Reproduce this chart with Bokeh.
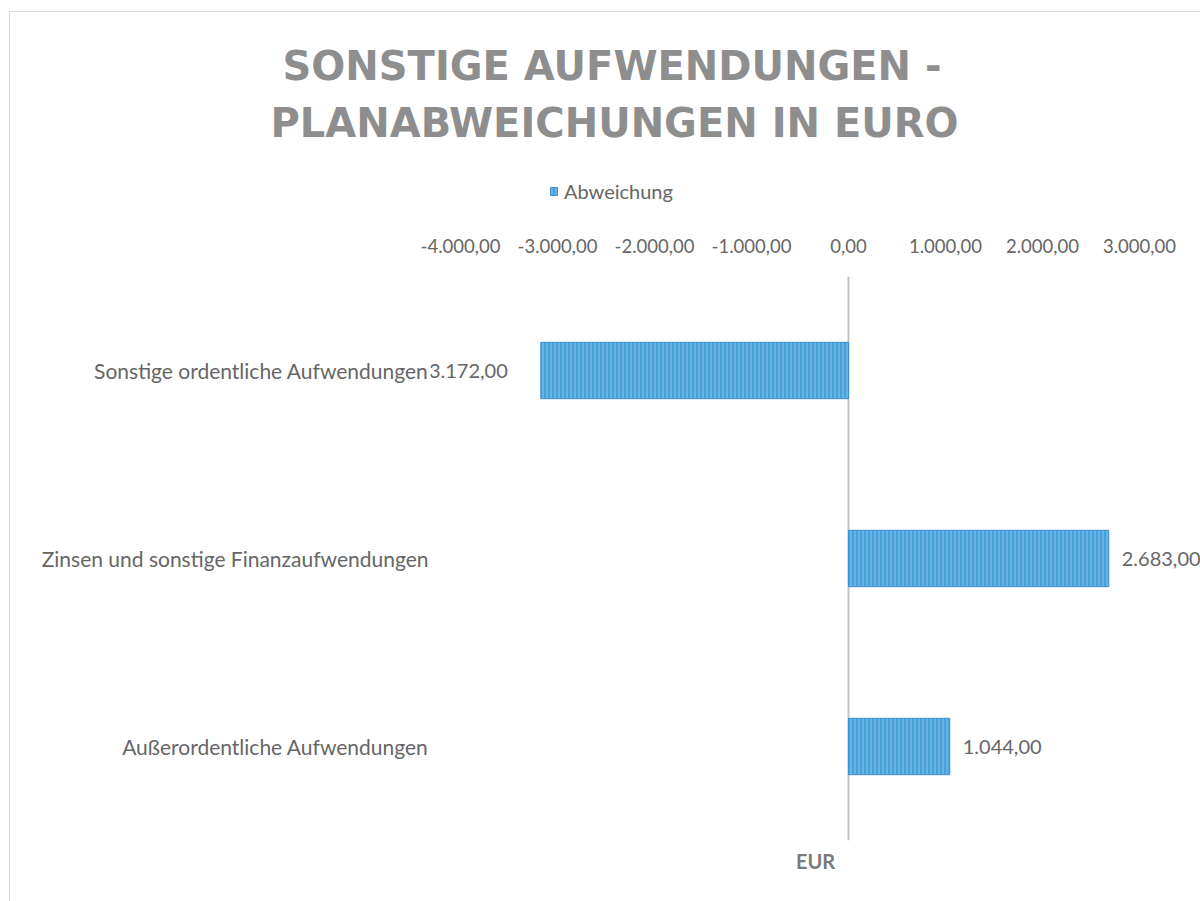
from bokeh.plotting import figure
from bokeh.layouts import column
from bokeh.models import (ColumnDataSource, FactorRange, Range1d, FixedTicker,
                          CustomJSTickFormatter, Span, LabelSet, Legend,
                          LegendItem, LinearAxis, Title)
from bokeh.core.properties import value
from bokeh.embed import file_html
from bokeh.resources import INLINE

# ---------------- data ----------------
categories = ["Sonstige ordentliche Aufwendungen",
              "Zinsen und sonstige Finanzaufwendungen",
              "Außerordentliche Aufwendungen"]
values = [-3172.0, 2683.0, 1044.0]
x_ticks = [-4000, -3000, -2000, -1000, 0, 1000, 2000, 3000]
series_name = "Abweichung"
title_lines = ["SONSTIGE AUFWENDUNGEN -", "PLANABWEICHUNGEN IN EURO"]
axis_title = "EUR"


def de_fmt(v):
    s = f"{abs(v):,.2f}".replace(",", "X").replace(".", ",").replace("X", ".")
    return ("-" if v < 0 else "") + s


FONT = "Lato"
LABEL_COLOR = "#666666"
TITLE_COLOR = "#8e8e8e"
BAR_COLOR = "#46a2dc"
BAR_STYLE = dict(fill_color=BAR_COLOR, line_color="#3b8fd1", line_width=1,
                 hatch_pattern="vertical_line", hatch_color="white",
                 hatch_alpha=0.35, hatch_scale=4, hatch_weight=1)

W, H = 1200, 901
HH = 215      # header height (title + legend)
LEFT = 430    # left border (room for category labels)

# ---------------- header: title and legend ----------------
hdr = figure(width=W, height=HH, x_range=Range1d(0, 1), y_range=Range1d(0, 1),
             x_axis_type=None, y_axis_type=None,
             output_backend="svg", toolbar_location=None,
             min_border_left=LEFT, min_border_right=0,
             min_border_top=150, min_border_bottom=0)
hdr.outline_line_color = None
hdr.grid.grid_line_color = None
hdr.background_fill_color = None
hdr.border_fill_color = None

hdr.add_layout(Title(text=title_lines[1], align="left", offset=-160,
                     standoff=10, text_font="DejaVu Sans",
                     text_font_style="bold", text_font_size="40px",
                     text_color=TITLE_COLOR), "above")
hdr.add_layout(Title(text=title_lines[0], align="left", offset=-148,
                     standoff=8, text_font="DejaVu Sans",
                     text_font_style="bold", text_font_size="40px",
                     text_color=TITLE_COLOR), "above")

# legend key: same styling as the bars, renderer itself hidden
key = hdr.hbar(y=[-5], left=[0], right=[values[0]], height=1,
               visible=False, **BAR_STYLE)
legend = Legend(items=[LegendItem(label=series_name, renderers=[key])],
                location=(549 - LEFT, 12), orientation="horizontal",
                border_line_color=None, background_fill_alpha=0,
                inactive_fill_alpha=0,
                glyph_width=9, glyph_height=10, padding=0, margin=0,
                label_standoff=6, label_text_font=FONT,
                label_text_font_size="20px", label_text_color=LABEL_COLOR)
hdr.add_layout(legend, "center")

# ---------------- main chart ----------------
p = figure(width=W, height=H - HH,
           x_range=Range1d(-4309, 3629),
           y_range=FactorRange(factors=list(reversed(categories))),
           x_axis_location="above",
           output_backend="svg", toolbar_location=None,
           min_border_left=LEFT, min_border_right=0,
           min_border_top=276 - HH, min_border_bottom=61)
p.outline_line_color = None
p.xgrid.grid_line_color = None
p.ygrid.grid_line_color = None
p.background_fill_color = None
p.border_fill_color = None

# zero line (category axis)
p.add_layout(Span(location=0, dimension="height", line_color="#c3c3c3",
                  line_width=2, level="underlay"))

src = ColumnDataSource(dict(cat=categories, val=values,
                            lbl=[de_fmt(v) for v in values]))
bars = p.hbar(y="cat", left=0, right="val", height=0.30, source=src,
              **BAR_STYLE)

# data labels
neg = ColumnDataSource(dict(cat=[c for c, v in zip(categories, values) if v < 0],
                            val=[v for v in values if v < 0],
                            lbl=[de_fmt(v) for v in values if v < 0]))
pos = ColumnDataSource(dict(cat=[c for c, v in zip(categories, values) if v >= 0],
                            val=[v for v in values if v >= 0],
                            lbl=[de_fmt(v) for v in values if v >= 0]))
for s, off, al in ((neg, -33, "right"), (pos, 13, "left")):
    p.add_layout(LabelSet(x="val", y="cat", text="lbl", source=s,
                          x_offset=off, y_offset=0,
                          text_align=al, text_baseline="middle",
                          text_font=value(FONT), text_font_size="20px",
                          text_color=LABEL_COLOR))

# top value axis
xa = p.xaxis[0]
xa.ticker = FixedTicker(ticks=x_ticks)
xa.formatter = CustomJSTickFormatter(code="""
    const parts = Math.abs(tick).toFixed(2).split('.');
    const intp = parts[0].replace(/\\B(?=(\\d{3})+(?!\\d))/g, '.');
    return (tick < 0 ? '-' : '') + intp + ',' + parts[1];
""")
xa.axis_line_color = None
xa.major_tick_line_color = None
xa.minor_tick_line_color = None
xa.major_tick_out = 0
xa.major_label_standoff = 24
xa.major_label_text_font = FONT
xa.major_label_text_font_size = "18.5px"
xa.major_label_text_color = LABEL_COLOR

# category axis
ya = p.yaxis[0]
ya.axis_line_color = None
ya.major_tick_line_color = None
ya.minor_tick_line_color = None
ya.major_tick_out = 0
ya.major_label_standoff = 2
ya.major_label_text_font = FONT
ya.major_label_text_font_size = "21px"
ya.major_label_text_color = LABEL_COLOR

# axis title below
ba = LinearAxis(ticker=FixedTicker(ticks=[]), axis_label=axis_title,
                axis_line_color=None, major_tick_line_color=None,
                minor_tick_line_color=None, major_tick_out=0,
                major_label_standoff=0, axis_label_standoff=8,
                axis_label_text_font=FONT, axis_label_text_font_style="bold",
                axis_label_text_font_size="20px",
                axis_label_text_color="#7a7a7a")
p.add_layout(ba, "below")

page = column(hdr, p, spacing=0, styles={
    "background": "linear-gradient(#dadada,#dadada) 9px 11px / 1px 100% no-repeat,"
                  "linear-gradient(#dadada,#dadada) 9px 11px / 100% 1px no-repeat,"
                  "white"
})

open("out.html", "w").write(file_html(page, INLINE))
